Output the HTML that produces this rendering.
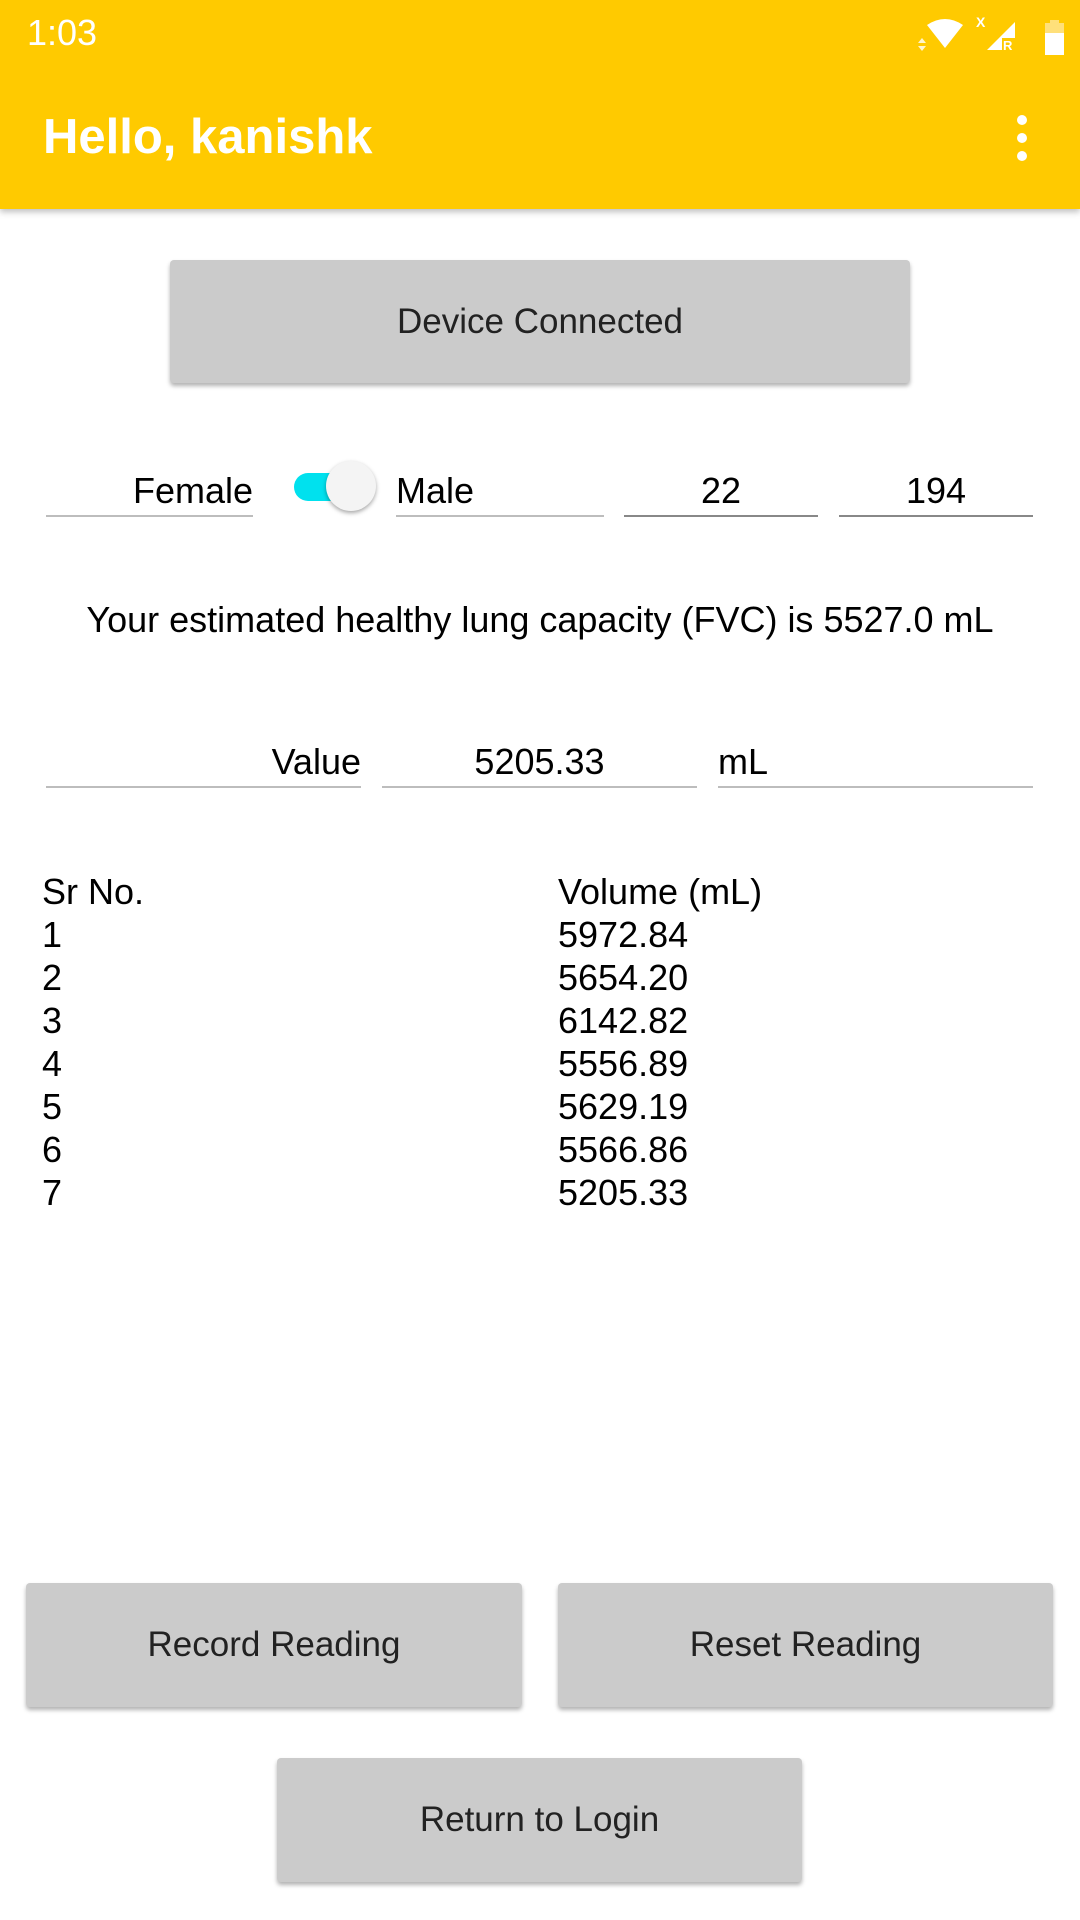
<!DOCTYPE html>
<html><head><meta charset="utf-8">
<style>
*{margin:0;padding:0;box-sizing:border-box}
body{width:1080px;height:1920px;background:#fff;font-family:"Liberation Sans",sans-serif;position:relative;overflow:hidden;color:#000}
.abs{position:absolute}
.bar{left:0;top:0;width:1080px;height:209px;background:#ffca00;box-shadow:0 3px 6px rgba(0,0,0,.25)}
.btn{position:absolute;background:#cbcbcb;border-radius:4px;box-shadow:0 3px 4px rgba(0,0,0,.3);display:flex;align-items:center;justify-content:center;font-size:35px;color:#222}
.field{position:absolute;border-bottom:2px solid #bdbdbd;font-size:36px;height:50px;line-height:48px;white-space:nowrap}
.row{position:absolute;font-size:36px;line-height:43px}
</style></head><body>
<div class="abs bar"></div>
<div class="abs" style="left:27px;top:12px;font-size:36px;color:#fff">1:03</div>
<svg class="abs" style="left:915px;top:10px" width="160" height="45">
<path d="M12 15 Q30 3 48 15 L30 38 Z" fill="#fff"/>
<path d="M3 33 l4-5 4 5z M3 36 l4 5 4-5z" fill="#fff" opacity=".8"/>
<text x="61" y="17" fill="#fff" font-size="14" font-weight="bold" font-family="Liberation Sans">X</text>
<path d="M100 12 L100 40 L72 40 Z" fill="#fff"/>
<rect x="87" y="28" width="13" height="13" fill="#ffca00"/>
<text x="88" y="40" fill="#fff" font-size="13" font-weight="bold" font-family="Liberation Sans">R</text>
<rect x="130" y="17" width="19" height="30" fill="#fff"/><rect x="130" y="13" width="19" height="10" fill="#ffe07a"/><rect x="135" y="10" width="9" height="4" fill="#ffe07a"/>
</svg>
<div class="abs" style="left:43px;top:109px;font-size:49px;font-weight:bold;color:#fff">Hello, kanishk</div>
<svg class="abs" style="left:1012px;top:115px" width="20" height="50"><circle cx="10" cy="5" r="5" fill="#fff"/><circle cx="10" cy="23" r="5" fill="#fff"/><circle cx="10" cy="41" r="5" fill="#fff"/></svg>

<div class="btn" style="left:170px;top:260px;width:740px;height:123px">Device Connected</div>

<div class="field" style="left:46px;top:467px;width:207px;text-align:right">Female</div>
<div class="abs" style="left:294px;top:473px;width:72px;height:28px;border-radius:14px;background:#00e1ee"></div>
<div class="abs" style="left:326px;top:461px;width:50px;height:50px;border-radius:25px;background:#f4f4f4;box-shadow:0 2px 4px rgba(0,0,0,.35)"></div>
<div class="field" style="left:396px;top:467px;width:208px">Male</div>
<div class="field" style="left:624px;top:467px;width:194px;text-align:center;border-color:#888">22</div>
<div class="field" style="left:839px;top:467px;width:194px;text-align:center;border-color:#888">194</div>

<div class="abs" style="left:0;top:599px;width:1080px;text-align:center;font-size:36px">Your estimated healthy lung capacity (FVC) is 5527.0 mL</div>

<div class="field" style="left:46px;top:738px;width:315px;text-align:right">Value</div>
<div class="field" style="left:382px;top:738px;width:315px;text-align:center">5205.33</div>
<div class="field" style="left:718px;top:738px;width:315px">mL</div>

<div id="table">
<div class="row" style="left:42px;top:870px">Sr No.</div>
<div class="row" style="left:558px;top:870px">Volume (mL)</div>
</div>

<div class="btn" style="left:26px;top:1583px;width:496px;height:124px">Record Reading</div>
<div class="btn" style="left:558px;top:1583px;width:495px;height:124px">Reset Reading</div>
<div class="btn" style="left:277px;top:1758px;width:525px;height:124px">Return to Login</div>

<script>
const srNos=["1","2","3","4","5","6","7"];
const volumes=["5972.84","5654.20","6142.82","5556.89","5629.19","5566.86","5205.33"];
const t=document.getElementById('table');
srNos.forEach((s,i)=>{
  const a=document.createElement('div');a.className='row';a.style.left='42px';a.style.top=(870+43*(i+1))+'px';a.textContent=s;
  
  
  const b=document.createElement('div');b.className='row';b.style.left='558px';b.style.top=(870+43*(i+1))+'px';b.textContent=volumes[i];
  
  
  t.appendChild(a);t.appendChild(b);
});
</script>
</body></html>
